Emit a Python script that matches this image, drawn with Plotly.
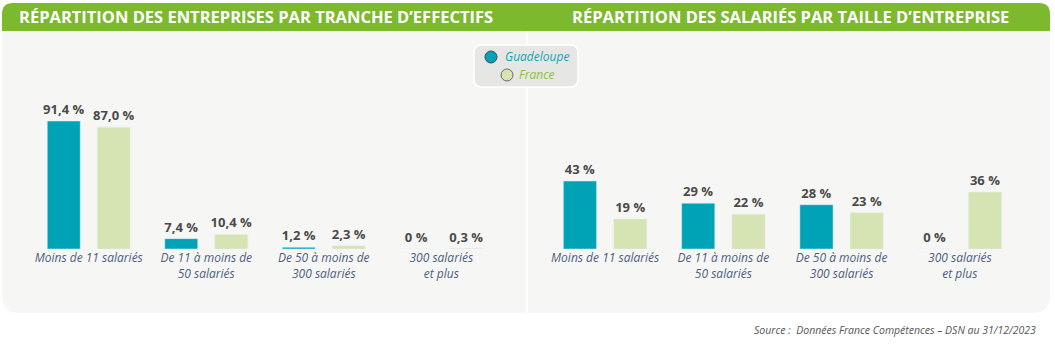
import plotly.graph_objects as go

categories = ["Moins de 11 salariés", "De 11 à moins de<br>50 salariés",
              "De 50 à moins de<br>300 salariés", "300 salariés<br>et plus"]
series_names = ["Guadeloupe", "France"]
ent_guadeloupe = [91.4, 7.4, 1.2, 0]
ent_france = [87.0, 10.4, 2.3, 0.3]
sal_guadeloupe = [43, 29, 28, 0]
sal_france = [19, 22, 23, 36]
titles = ["RÉPARTITION DES ENTREPRISES PAR TRANCHE D’EFFECTIFS",
          "RÉPARTITION DES SALARIÉS PAR TAILLE D’ENTREPRISE"]
source_text = "Source :  Données France Compétences – DSN au 31/12/2023"

W, H = 1055, 344
TEAL = "#00a3b6"
LGREEN = "#d5e4b2"
HEADER = "#7db92e"
PANEL = "#f6f7f5"
VAL_COL = "#4a4a4a"
CAT_COL = "#4d5e80"
FONT = "Open Sans"


def px(x):
    return x / W


def py(y):
    return 1 - y / H


def fmt1(v):
    if v == 0:
        return "0 %"
    return f"{v:.1f}".replace(".", ",") + " %"


def fmt0(v):
    return f"{v:.0f} %"


fig = go.Figure()

colors = [TEAL, LGREEN]
for i, (vals, col) in enumerate(zip([ent_guadeloupe, ent_france], colors)):
    fig.add_trace(go.Bar(
        x=categories, y=vals, name=series_names[i], marker_color=col,
        text=[fmt1(v) for v in vals], textposition="outside", cliponaxis=False,
        constraintext="none",
        textfont=dict(family=FONT, size=13, color=VAL_COL, weight="bold"),
        xaxis="x", yaxis="y", showlegend=False, hoverinfo="skip"))
for i, (vals, col) in enumerate(zip([sal_guadeloupe, sal_france], colors)):
    fig.add_trace(go.Bar(
        x=categories, y=vals, name=series_names[i], marker_color=col,
        text=[fmt0(v) for v in vals], textposition="outside", cliponaxis=False,
        constraintext="none",
        textfont=dict(family=FONT, size=13, color=VAL_COL, weight="bold"),
        xaxis="x2", yaxis="y2", showlegend=False, hoverinfo="skip"))

base_y = 249
fig.update_layout(
    width=W, height=H, margin=dict(l=0, r=0, t=0, b=0),
    paper_bgcolor="white", plot_bgcolor="rgba(0,0,0,0)",
    barmode="group", bargap=0.149, bargroupgap=0.34,
    font=dict(family=FONT), showlegend=False,
    xaxis=dict(domain=[px(30), px(500)], anchor="y", showgrid=False,
               showline=False, zeroline=False, ticks="",
               tickfont=dict(family=FONT, size=12, color=CAT_COL, style="italic")),
    yaxis=dict(domain=[py(base_y), 1], range=[0, base_y / 1.4], visible=False),
    xaxis2=dict(domain=[px(546), px(1019)], anchor="y2", showgrid=False,
                showline=False, zeroline=False, ticks="",
                tickfont=dict(family=FONT, size=12, color=CAT_COL, style="italic")),
    yaxis2=dict(domain=[py(base_y), 1], range=[0, base_y / 1.58], visible=False),
)

# panel background with rounded bottom corners
x0, x1, y0, y1, r = 2, 1050, 31, 313, 18
panel_path = (f"M {px(x0)},{py(y0)} L {px(x1)},{py(y0)} L {px(x1)},{py(y1 - r)} "
              f"Q {px(x1)},{py(y1)} {px(x1 - r)},{py(y1)} L {px(x0 + r)},{py(y1)} "
              f"Q {px(x0)},{py(y1)} {px(x0)},{py(y1 - r)} Z")
# header with rounded top corners
hy0, hy1, hr = 3, 31, 11
header_path = (f"M {px(x0)},{py(hy1)} L {px(x0)},{py(hy0 + hr)} "
               f"Q {px(x0)},{py(hy0)} {px(x0 + hr)},{py(hy0)} L {px(x1 - hr)},{py(hy0)} "
               f"Q {px(x1)},{py(hy0)} {px(x1)},{py(hy0 + hr)} L {px(x1)},{py(hy1)} Z")
# legend box
lx0, lx1, ly0, ly1, lr = 474, 578, 45, 87, 8
legend_path = (f"M {px(lx0 + lr)},{py(ly0)} L {px(lx1 - lr)},{py(ly0)} "
               f"Q {px(lx1)},{py(ly0)} {px(lx1)},{py(ly0 + lr)} L {px(lx1)},{py(ly1 - lr)} "
               f"Q {px(lx1)},{py(ly1)} {px(lx1 - lr)},{py(ly1)} L {px(lx0 + lr)},{py(ly1)} "
               f"Q {px(lx0)},{py(ly1)} {px(lx0)},{py(ly1 - lr)} L {px(lx0)},{py(ly0 + lr)} "
               f"Q {px(lx0)},{py(ly0)} {px(lx0 + lr)},{py(ly0)} Z")

shapes = [
    dict(type="path", path=panel_path, xref="paper", yref="paper",
         fillcolor=PANEL, line=dict(width=0), layer="below"),
    dict(type="path", path=header_path, xref="paper", yref="paper",
         fillcolor=HEADER, line=dict(width=0), layer="below"),
    dict(type="line", x0=px(527), x1=px(527), y0=py(31), y1=py(313),
         xref="paper", yref="paper", line=dict(color="white", width=2), layer="below"),
    dict(type="path", path=legend_path, xref="paper", yref="paper",
         fillcolor="#e6e7e5", line=dict(color="white", width=1.5), layer="below"),
]

# legend (manual)
leg_text_cols = ["#1a9fb5", "#8dbf3a"]
leg_line = ["#3d4a55", "#6b6b6b"]
leg_pos = [(491, 57, 503), (507, 75, 517)]
for i in range(2):
    cx, cy, tx = leg_pos[i]
    rr = 6
    shapes.append(dict(type="circle", xref="paper", yref="paper",
                       x0=px(cx - rr), x1=px(cx + rr), y0=py(cy + rr), y1=py(cy - rr),
                       fillcolor=colors[i], line=dict(color=leg_line[i], width=1)))
    fig.add_annotation(x=px(tx), y=py(cy), xref="paper", yref="paper",
                       text=series_names[i], xanchor="left", yanchor="middle",
                       showarrow=False,
                       font=dict(family=FONT, size=12, color=leg_text_cols[i], style="italic"))

fig.update_layout(shapes=shapes)

fig.add_annotation(x=px(256), y=py(17), xref="paper", yref="paper", text=titles[0],
                   xanchor="center", yanchor="middle", showarrow=False,
                   font=dict(family=FONT, size=16.5, color="white", weight="bold"))
fig.add_annotation(x=px(790), y=py(17), xref="paper", yref="paper", text=titles[1],
                   xanchor="center", yanchor="middle", showarrow=False,
                   font=dict(family=FONT, size=16.5, color="white", weight="bold"))
fig.add_annotation(x=px(1038), y=py(330), xref="paper", yref="paper", text=source_text,
                   xanchor="right", yanchor="middle", showarrow=False,
                   font=dict(family=FONT, size=10.5, color="#555555", style="italic"))

fig.write_html("out.html")
